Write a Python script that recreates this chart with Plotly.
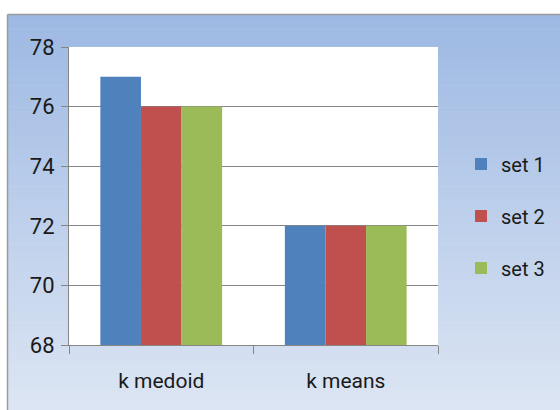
import plotly.graph_objects as go

# Data
categories = ["k medoid", "k means"]
set1 = [77, 72]
set2 = [76, 72]
set3 = [76, 72]
series_names = ["set 1", "set 2", "set 3"]
series_colors = ["#4F81BD", "#C0504D", "#9BBB59"]
y_ticks = [68, 70, 72, 74, 76, 78]

W, H = 560, 410
L, R, T, B = 69, 122, 47, 65
PW, PH = W - L - R, H - T - B


def px_x(p):
    return (p - L) / PW


def px_y(p):
    return (H - B - p) / PH


fig = go.Figure()
for name, vals, col in zip(series_names, [set1, set2, set3], series_colors):
    fig.add_trace(go.Bar(
        x=categories, y=vals, name=name, marker_color=col,
        marker_line_width=0, legendgroup=name,
    ))

# Blue gradient chart-area background
shapes = []
top_px, bot_px = 15, H
c0 = (157, 185, 227)
c1 = (220, 229, 243)
n = 90
for i in range(n):
    t = i / (n - 1)
    col = "rgb(%d,%d,%d)" % tuple(round(a + (b - a) * t) for a, b in zip(c0, c1))
    y0 = top_px + (bot_px - top_px) * i / n
    y1 = top_px + (bot_px - top_px) * (i + 1) / n + 0.6
    shapes.append(dict(type="rect", xref="paper", yref="paper", layer="below",
                       x0=px_x(8), x1=px_x(W + 2), y0=px_y(y1), y1=px_y(y0),
                       fillcolor=col, line_width=0))
# frame edges (top and left)
shapes.append(dict(type="line", xref="paper", yref="paper", layer="below",
                   x0=px_x(7.5), x1=px_x(W + 2), y0=px_y(14.5), y1=px_y(14.5),
                   line=dict(color="#9a9a9a", width=1.5)))
shapes.append(dict(type="line", xref="paper", yref="paper", layer="below",
                   x0=px_x(7.5), x1=px_x(7.5), y0=px_y(14.5), y1=px_y(H + 2),
                   line=dict(color="#9a9a9a", width=1.5)))
# white plot area
shapes.append(dict(type="rect", xref="paper", yref="paper", layer="below",
                   x0=0, x1=1, y0=0, y1=1, fillcolor="white", line_width=0))

fig.update_layout(
    width=W, height=H,
    margin=dict(l=L, r=R, t=T, b=B, autoexpand=False),
    paper_bgcolor="white",
    plot_bgcolor="white",
    shapes=shapes,
    barmode="group",
    bargap=0.34,
    bargroupgap=0,
    font=dict(family="Roboto", size=21, color="#1a1a1a"),
    showlegend=True,
    legend=dict(
        x=px_x(461), xanchor="left", y=px_y(216), yanchor="middle",
        bgcolor="rgba(0,0,0,0)", font=dict(size=20, color="#1a1a1a"),
        tracegroupgap=23, itemwidth=30,
    ),
    xaxis=dict(
        showline=True, linecolor="#868686", linewidth=1,
        ticks="outside", tickson="boundaries", ticklen=8, tickcolor="#868686",
        showgrid=False, tickfont=dict(size=21), ticklabelstandoff=17,
    ),
    yaxis=dict(
        range=[68, 78], tickvals=y_ticks,
        showline=True, linecolor="#868686", linewidth=1,
        ticks="outside", ticklen=7, tickcolor="#868686",
        showgrid=True, gridcolor="#868686", gridwidth=1,
        zeroline=False, tickfont=dict(size=22), ticklabelstandoff=2,
    ),
)

fig.write_html("out.html")
